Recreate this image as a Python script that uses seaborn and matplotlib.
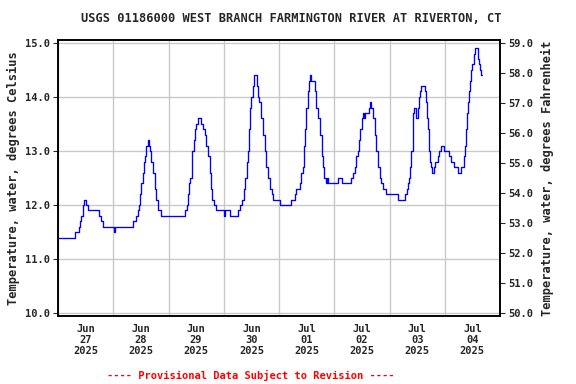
import matplotlib
matplotlib.use("Agg")
import matplotlib.pyplot as plt
import matplotlib.dates as mdates
from matplotlib.ticker import FixedLocator, FormatStrFormatter
import seaborn as sns
import pandas as pd
import numpy as np

title = "USGS 01186000 WEST BRANCH FARMINGTON RIVER AT RIVERTON, CT"
ylabel_left = "Temperature, water, degrees Celsius"
ylabel_right = "Temperature, water, degrees Fahrenheit"
footer = "---- Provisional Data Subject to Revision ----"
start = "2025-06-27 00:00"
end = "2025-07-05 00:00"

# hours after Jun 27 00:00 at which the reading changes, and the new value (deg C)
hours = [0, 7.25, 9.0, 9.5, 10.0, 10.75, 11.0, 11.25, 12.25, 13.0, 18.0, 18.75, 19.5,
         24.25, 24.75, 32.5, 33.75, 34.75, 35.25, 35.5, 36.25, 37.0, 37.25, 38.0, 38.25,
         39.0, 39.5, 39.75, 40.5, 41.25, 42.0, 42.75, 43.5, 44.75,
         55.25, 56.0, 56.5, 57.0, 57.25, 58.0, 58.25, 59.0, 59.5, 60.0, 60.75, 62.25,
         63.0, 63.75, 64.5, 65.25, 66.0, 66.5, 67.0, 67.75, 68.75, 72.0, 72.75, 74.75,
         78.0, 79.0, 80.0, 80.75, 81.25, 82.0, 82.5, 83.0, 83.5, 84.0, 84.75, 85.25,
         86.25, 87.0, 87.5, 88.25, 89.0, 89.75, 90.5, 91.25, 92.0, 92.75, 93.5, 96.25,
         101.25, 102.75, 103.5, 105.0, 105.75, 106.5, 106.75, 107.25, 107.75, 108.5,
         109.0, 109.5, 110.0, 111.75, 112.25, 113.0, 114.0, 114.5, 115.0, 115.75, 116.5,
         116.75, 117.25, 121.75, 123.5, 127.25, 128.25, 129.0, 129.5, 130.25, 130.75,
         131.25, 132.0, 132.5, 133.0, 133.5, 135.0, 135.5, 136.0, 136.75, 137.5, 138.25,
         139.0, 139.75, 140.5, 141.25, 142.5, 147.5, 150.75, 151.5, 152.0, 152.5, 153.0,
         153.5, 154.0, 154.25, 154.75, 155.5, 156.5, 156.75, 157.25, 157.5, 159.25,
         159.75, 160.25, 160.75, 161.0, 161.5, 162.0, 162.25, 163.25, 163.75, 165.0,
         165.5, 166.25, 167.75, 169.75, 170.75, 172.0, 173.75, 175.25, 176.25, 177.0,
         177.25, 177.75, 178.25, 178.75, 179.0, 179.5, 180.0, 180.5, 180.75, 181.25,
         182.25, 182.5, 183.0, 183.5, 183.75, 184.0]
temps_c = [11.4, 11.5, 11.6, 11.7, 11.8, 11.9, 12.0, 12.1, 12.0, 11.9, 11.8, 11.7, 11.6,
           11.5, 11.6, 11.7, 11.8, 11.9, 12.0, 12.2, 12.4, 12.6, 12.8, 12.9, 13.1,
           13.2, 13.1, 13.0, 12.8, 12.6, 12.3, 12.1, 11.9, 11.8,
           11.9, 12.0, 12.2, 12.4, 12.5, 12.8, 13.0, 13.2, 13.4, 13.5, 13.6, 13.5,
           13.4, 13.3, 13.1, 12.9, 12.6, 12.3, 12.1, 12.0, 11.9, 11.8, 11.9, 11.8,
           11.9, 12.0, 12.1, 12.3, 12.5, 12.8, 13.0, 13.4, 13.8, 14.0, 14.2, 14.4,
           14.2, 14.0, 13.9, 13.6, 13.3, 13.0, 12.7, 12.5, 12.3, 12.2, 12.1, 12.0,
           12.1, 12.2, 12.3, 12.4, 12.6, 12.7, 13.1, 13.4, 13.8, 14.1,
           14.3, 14.4, 14.3, 14.1, 13.8, 13.6, 13.3, 12.9, 12.7, 12.5, 12.4,
           12.5, 12.4, 12.5, 12.4, 12.5, 12.6, 12.7, 12.9, 13.0, 13.2,
           13.4, 13.6, 13.7, 13.6, 13.7, 13.8, 13.9, 13.8, 13.6, 13.3, 13.0,
           12.7, 12.5, 12.4, 12.3, 12.2, 12.1, 12.2, 12.3, 12.4, 12.5, 12.7,
           13.0, 13.3, 13.7, 13.8, 13.6, 13.8, 14.0, 14.1, 14.2, 14.1,
           13.9, 13.6, 13.4, 13.0, 12.8, 12.7, 12.6, 12.7, 12.8, 12.9,
           13.0, 13.1, 13.0, 12.9, 12.8, 12.7, 12.6, 12.7, 12.9, 13.1,
           13.4, 13.7, 13.9, 14.1, 14.3, 14.5, 14.6, 14.7, 14.8, 14.9,
           14.8, 14.7, 14.6, 14.5, 14.4, 14.4]

c_ticks = [10.0, 11.0, 12.0, 13.0, 14.0, 15.0]
f_ticks = [50.0, 51.0, 52.0, 53.0, 54.0, 55.0, 56.0, 57.0, 58.0, 59.0]
day_labels = ["Jun\n27\n2025", "Jun\n28\n2025", "Jun\n29\n2025", "Jun\n30\n2025",
              "Jul\n01\n2025", "Jul\n02\n2025", "Jul\n03\n2025", "Jul\n04\n2025"]

sns.set_style("white")
mono = ["DejaVu Sans Mono"]
plt.rcParams["font.family"] = mono

t0 = pd.Timestamp(start)
df = pd.DataFrame({"time": t0 + pd.to_timedelta(hours, unit="h"), "temp": temps_c})

fig = plt.figure(figsize=(6, 4), dpi=96)
ax = fig.add_axes([58 / 576, 1 - 316 / 384, 442 / 576, 276 / 384])

sns.lineplot(data=df, x="time", y="temp", ax=ax, color="#0000ff", linewidth=1.0,
             drawstyle="steps-post", estimator=None, errorbar=None)

ylo, yhi = 9.95, 15.05
ax.set_ylim(ylo, yhi)
ax.set_xlim(pd.Timestamp(start), pd.Timestamp(end))

ax.yaxis.set_major_locator(FixedLocator(c_ticks))
ax.yaxis.set_major_formatter(FormatStrFormatter("%.1f"))

midnights = pd.date_range(start, end, freq="D")
noons = midnights[:-1] + pd.Timedelta(hours=12)
ax.xaxis.set_major_locator(FixedLocator(mdates.date2num(noons)))
ax.set_xticklabels(day_labels)
ax.xaxis.set_minor_locator(FixedLocator(mdates.date2num(midnights)))

ax.grid(False)
ax.grid(True, which="minor", axis="x", color="#c8c8c8", linewidth=1.0)
ax.grid(True, which="major", axis="y", color="#c8c8c8", linewidth=1.0)
ax.set_axisbelow(True)

ax.tick_params(axis="x", which="both", length=0, pad=6, labelsize=7.8)
ax.tick_params(axis="y", which="major", length=4, width=0.8, direction="out",
               left=True, pad=2, labelsize=7.8)
for lbl in ax.get_xticklabels() + ax.get_yticklabels():
    lbl.set_fontweight("bold")
    lbl.set_linespacing(1.15)

ax.set_xlabel("")
ax.set_ylabel(ylabel_left, fontsize=9, fontweight="bold", labelpad=4)

for s in ax.spines.values():
    s.set_color("black")
    s.set_linewidth(1.2)

ax2 = ax.twinx()
ax2.set_ylim(ylo * 1.8 + 32, yhi * 1.8 + 32)
ax2.yaxis.set_major_locator(FixedLocator(f_ticks))
ax2.yaxis.set_major_formatter(FormatStrFormatter("%.1f"))
ax2.tick_params(axis="y", length=4, width=0.8, direction="out", pad=2, labelsize=7.8)
for lbl in ax2.get_yticklabels():
    lbl.set_fontweight("bold")
ax2.set_ylabel(ylabel_right, fontsize=9, fontweight="bold", labelpad=6)
ax2.grid(False)
for s in ax2.spines.values():
    s.set_color("black")
    s.set_linewidth(1.2)

fig.text(291 / 576, 1 - 19 / 384, title, ha="center", va="center",
         fontsize=9, fontweight="bold")
fig.text(251 / 576, 1 - 375 / 384, footer, ha="center", va="center",
         fontsize=7.8, fontweight="bold", color="#ff0000")

fig.savefig("out.png", dpi=96)
